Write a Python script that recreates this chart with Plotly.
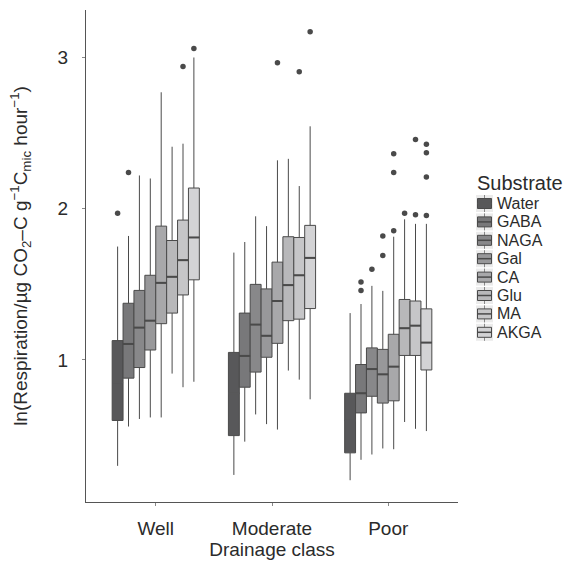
import plotly.graph_objects as go

groups = ["Well", "Moderate", "Poor"]
substrates = ["Water", "GABA", "NAGA", "Gal", "CA", "Glu", "MA", "AKGA"]
fills = ["#58585a", "#78787a", "#88888a", "#98989a", "#a8a8aa", "#b8b8ba", "#c6c6c8", "#d3d3d5"]

# per substrate: values for [Well, Moderate, Poor]
q1 = {
    "Water": [0.60, 0.50, 0.386],
    "GABA": [0.88, 0.82, 0.65],
    "NAGA": [0.95, 0.92, 0.76],
    "Gal": [1.066, 1.018, 0.715],
    "CA": [1.24, 1.11, 0.73],
    "Glu": [1.31, 1.26, 1.03],
    "MA": [1.43, 1.27, 1.03],
    "AKGA": [1.53, 1.34, 0.934],
}
median = {
    "Water": [0.85, 0.78, 0.60],
    "GABA": [1.106, 1.027, 0.78],
    "NAGA": [1.214, 1.234, 0.94],
    "Gal": [1.26, 1.16, 0.905],
    "CA": [1.51, 1.39, 0.956],
    "Glu": [1.55, 1.495, 1.21],
    "MA": [1.66, 1.56, 1.227],
    "AKGA": [1.81, 1.675, 1.115],
}
q3 = {
    "Water": [1.128, 1.05, 0.78],
    "GABA": [1.375, 1.31, 0.97],
    "NAGA": [1.46, 1.50, 1.08],
    "Gal": [1.56, 1.47, 1.07],
    "CA": [1.885, 1.647, 1.17],
    "Glu": [1.79, 1.815, 1.40],
    "MA": [1.925, 1.81, 1.39],
    "AKGA": [2.137, 1.89, 1.338],
}
lower = {
    "Water": [0.30, 0.24, 0.205],
    "GABA": [0.56, 0.46, 0.34],
    "NAGA": [0.61, 0.64, 0.375],
    "Gal": [0.62, 0.576, 0.415],
    "CA": [0.62, 0.54, 0.41],
    "Glu": [0.91, 0.93, 0.59],
    "MA": [0.82, 0.87, 0.545],
    "AKGA": [0.856, 0.74, 0.53],
}
upper = {
    "Water": [1.75, 1.71, 1.31],
    "GABA": [1.82, 1.78, 1.37],
    "NAGA": [2.22, 1.95, 1.49],
    "Gal": [2.20, 1.885, 1.457],
    "CA": [2.77, 2.32, 1.815],
    "Glu": [2.41, 2.33, 1.93],
    "MA": [2.43, 2.15, 1.90],
    "AKGA": [3.00, 2.545, 1.90],
}
# outliers: list per group
outliers = {
    "Water": [[1.97], [], []],
    "GABA": [[2.24], [], [1.515, 1.46]],
    "NAGA": [[], [], [1.60]],
    "Gal": [[], [], [1.82, 1.69]],
    "CA": [[], [2.965], [2.364, 2.24, 1.854]],
    "Glu": [[], [], [1.97]],
    "MA": [[2.94], [2.905], [2.457, 1.96]],
    "AKGA": [[3.06], [3.17], [2.426, 2.37, 2.21, 1.955]],
}

W, H = 566, 564
ML, MR, MT, MB = 86, 108, 10, 62
PW, PH = W - ML - MR, H - MT - MB

dodge = 0.75
n = len(substrates)
bw = dodge / n
line_col = "#4a4a4a"
txt_col = "#2b2b2b"
font = "Liberation Sans, Arial, sans-serif"

fig = go.Figure()
for i, s in enumerate(substrates):
    off = (i - (n - 1) / 2) * bw
    xs = [g + off for g in range(len(groups))]
    fig.add_trace(go.Box(
        x=xs, q1=q1[s], median=median[s], q3=q3[s],
        lowerfence=lower[s], upperfence=upper[s],
        width=bw, whiskerwidth=0, fillcolor=fills[i],
        line=dict(color=line_col, width=1), name=s,
        boxpoints=False, hoverinfo="skip", showlegend=False,
    ))
# thicker median lines
for i, s in enumerate(substrates):
    off = (i - (n - 1) / 2) * bw
    mx, my = [], []
    for g in range(len(groups)):
        c = g + off
        mx += [c - bw / 2, c + bw / 2, None]
        my += [median[s][g], median[s][g], None]
    fig.add_trace(go.Scatter(x=mx, y=my, mode="lines",
                             line=dict(color=line_col if i > 0 else fills[0], width=2),
                             showlegend=False, hoverinfo="skip"))
# outliers
for i, s in enumerate(substrates):
    off = (i - (n - 1) / 2) * bw
    ox, oy = [], []
    for g in range(len(groups)):
        for v in outliers[s][g]:
            ox.append(g + off)
            oy.append(v)
    if ox:
        fig.add_trace(go.Scatter(x=ox, y=oy, mode="markers",
                                 marker=dict(color=line_col, size=5.5),
                                 showlegend=False, hoverinfo="skip"))

# manual legend (ggplot-style keys)
def px(x):
    return (x - ML) / PW

def py(y):
    return (H - MB - y) / PH

shapes = []
annotations = []
annotations.append(dict(text="Substrate", xref="paper", yref="paper", x=px(475), y=py(183),
                        xanchor="left", yanchor="middle", showarrow=False,
                        font=dict(size=20, color=txt_col, family=font)))
for i, s in enumerate(substrates):
    c = 203.5 + 18.4 * i
    shapes.append(dict(type="rect", xref="paper", yref="paper",
                       x0=px(476), x1=px(493), y0=py(c + 8.5), y1=py(c - 8.5),
                       fillcolor="#ebebeb", line=dict(width=0), layer="above"))
    shapes.append(dict(type="line", xref="paper", yref="paper",
                       x0=px(484.5), x1=px(484.5), y0=py(c + 8.5), y1=py(c - 8.5),
                       line=dict(color="#888888", width=1), layer="above"))
    shapes.append(dict(type="rect", xref="paper", yref="paper",
                       x0=px(477.5), x1=px(491.5), y0=py(c + 5), y1=py(c - 5),
                       fillcolor=fills[i], line=dict(color=line_col, width=1), layer="above"))
    shapes.append(dict(type="line", xref="paper", yref="paper",
                       x0=px(477.5), x1=px(491.5), y0=py(c), y1=py(c),
                       line=dict(color=line_col if i > 0 else fills[0], width=1.5), layer="above"))
    annotations.append(dict(text=s, xref="paper", yref="paper", x=px(495), y=py(c),
                            xanchor="left", yanchor="middle", showarrow=False,
                            font=dict(size=16, color=txt_col, family=font)))

fig.update_layout(
    width=W, height=H,
    margin=dict(l=ML, r=MR, t=MT, b=MB),
    plot_bgcolor="white", paper_bgcolor="white",
    font=dict(family=font, size=19, color=txt_col),
    boxmode="overlay",
    showlegend=False,
    shapes=shapes,
    annotations=annotations,
    xaxis=dict(
        range=[-0.6, 2.6], tickvals=[0, 1, 2], ticktext=groups,
        showline=True, linecolor="#555555", linewidth=1,
        ticks="outside", ticklen=3, tickcolor="#888888",
        showgrid=False, zeroline=False, ticklabelstandoff=6,
        tickfont=dict(size=19, color=txt_col),
        title=dict(text="Drainage class", font=dict(size=19, color=txt_col), standoff=0),
    ),
    yaxis=dict(
        range=[0.061, 3.314], tickvals=[1, 2, 3],
        showline=True, linecolor="#555555", linewidth=1,
        ticks="outside", ticklen=3, tickcolor="#888888",
        showgrid=False, zeroline=False, ticklabelstandoff=10,
        tickfont=dict(size=19, color=txt_col),
        title=dict(text="ln(Respiration/µg CO<sub>2</sub>–C g<sup>−1</sup>C<sub>mic</sub> hour<sup>−1</sup>)",
                   font=dict(size=19, color=txt_col), standoff=24),
    ),
)
fig.write_html("out.html")
